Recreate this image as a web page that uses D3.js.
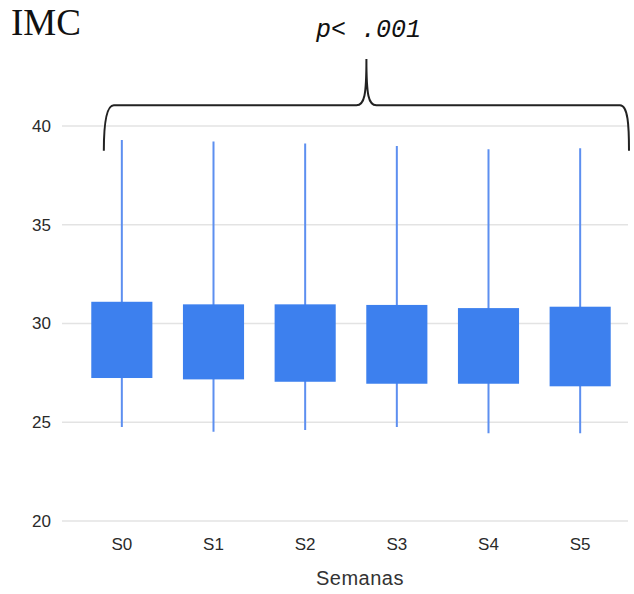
<!DOCTYPE html>
<html>
<head>
<meta charset="utf-8">
<script src="https://cdn.jsdelivr.net/npm/d3@7"></script>
<style>
  html, body { margin: 0; padding: 0; background: #ffffff; }
  svg { display: block; }
</style>
</head>
<body>
<svg id="chart" width="634" height="594"></svg>
<script>
// ---- data ----
const categories = ["S0", "S1", "S2", "S3", "S4", "S5"];
const whiskerHigh = [39.29, 39.21, 39.12, 38.99, 38.82, 38.87];
const boxHigh     = [31.10, 30.97, 30.97, 30.94, 30.78, 30.85];
const boxLow      = [27.24, 27.17, 27.05, 26.95, 26.95, 26.82];
const whiskerLow  = [24.76, 24.52, 24.61, 24.76, 24.44, 24.44];
const yTicks = [20, 25, 30, 35, 40];
const title = "IMC";
const xTitle = "Semanas";
const pText = "p< .001";

const rows = categories.map((c, i) => ({
  cat: c, hi: whiskerHigh[i], q3: boxHigh[i], q1: boxLow[i], lo: whiskerLow[i]
}));

const svg = d3.select("#chart");
const gridLeft = 62, gridRight = 628;

const x = d3.scaleBand().domain(categories).range([76, 626]).paddingInner(1/3).paddingOuter(1/6);
const y = d3.scaleLinear().domain([20, 40]).range([521, 126]);
const cx = c => x(c) + x.bandwidth() / 2;

// gridlines
svg.append("g").selectAll("line").data(yTicks).join("line")
  .attr("x1", gridLeft).attr("x2", gridRight)
  .attr("y1", d => y(d)).attr("y2", d => y(d))
  .attr("stroke", "#e3e3e3").attr("stroke-width", 1.5);

// y axis labels
const yAxis = d3.axisLeft(y).tickValues(yTicks).tickSize(0).tickPadding(0);
const yg = svg.append("g").attr("transform", "translate(51,0)").call(yAxis);
yg.select(".domain").remove();
yg.selectAll("text")
  .attr("font-family", "Liberation Sans, Arial, sans-serif")
  .attr("font-size", 17).attr("fill", "#2a2a2a");

// x axis labels
const xAxis = d3.axisBottom(x).tickSize(0).tickPadding(0);
const xg = svg.append("g").attr("transform", "translate(0,538)").call(xAxis);
xg.select(".domain").remove();
xg.selectAll("text")
  .attr("font-family", "Liberation Sans, Arial, sans-serif")
  .attr("font-size", 17).attr("fill", "#2a2a2a");

// whiskers
svg.append("g").selectAll("line").data(rows).join("line")
  .attr("x1", d => cx(d.cat)).attr("x2", d => cx(d.cat))
  .attr("y1", d => y(d.hi)).attr("y2", d => y(d.lo))
  .attr("stroke", "#5d8ff0").attr("stroke-width", 2);

// boxes
svg.append("g").selectAll("rect").data(rows).join("rect")
  .attr("x", d => x(d.cat))
  .attr("width", x.bandwidth())
  .attr("y", d => y(d.q3))
  .attr("height", d => y(d.q1) - y(d.q3))
  .attr("fill", "#3d80ee");

// brace annotation
const bl = cx(categories[0]) - 18;
const br = cx(categories[categories.length - 1]) + x.step() / 2 + 3;
const bm = (bl + br) / 2;
const by = y(41.05), be = y(38.75), bt = 59;
const p = d3.path();
p.moveTo(bl, be);
p.bezierCurveTo(bl, be - 25, bl + 2, by, bl + 10, by);
p.lineTo(bm - 10, by);
p.bezierCurveTo(bm - 2, by, bm, by - 10, bm, bt);
p.bezierCurveTo(bm, by - 10, bm + 2, by, bm + 10, by);
p.lineTo(br - 9, by);
p.bezierCurveTo(br - 1, by, br, be - 25, br, be);
svg.append("path").attr("d", p.toString())
  .attr("fill", "none").attr("stroke", "#222").attr("stroke-width", 2);

// p-value text
svg.append("text").attr("x", bm + 2).attr("y", 37)
  .attr("text-anchor", "middle")
  .attr("font-family", "Liberation Mono, DejaVu Sans Mono, monospace")
  .attr("font-style", "italic").attr("font-size", 25).attr("fill", "#111")
  .text(pText);

// title
svg.append("text").attr("x", 11).attr("y", 35)
  .attr("font-family", "Liberation Serif, Times New Roman, serif")
  .attr("font-size", 37).attr("fill", "#111")
  .text(title);

// x title
svg.append("text").attr("x", 360).attr("y", 585)
  .attr("text-anchor", "middle")
  .attr("font-family", "Liberation Sans, Arial, sans-serif")
  .attr("font-size", 20).attr("letter-spacing", 0.5).attr("fill", "#333")
  .text(xTitle);
</script>
</body>
</html>
